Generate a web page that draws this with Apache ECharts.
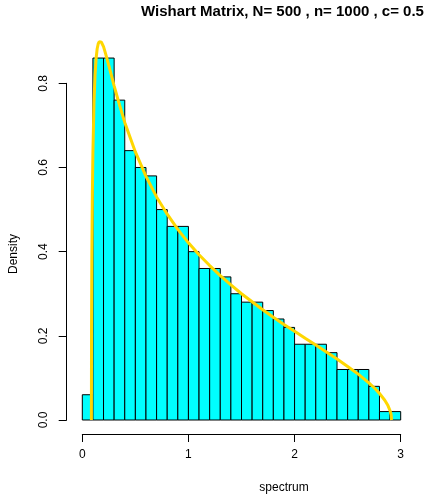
<!DOCTYPE html>
<html>
<head>
<meta charset="utf-8">
<script src="https://cdn.jsdelivr.net/npm/echarts@6/dist/echarts.min.js"></script>
<style>
html,body{margin:0;padding:0;background:#fff;}
#chart{width:430px;height:495px;}
</style>
</head>
<body>
<div id="chart"></div>
<script>
// Histogram breaks (bin edges)
var breaks = [0.0,0.1,0.2,0.3,0.4,0.5,0.6,0.7,0.8,0.9,1.0,1.1,1.2,1.3,1.4,1.5,1.6,1.7,1.8,1.9,2.0,2.1,2.2,2.3,2.4,2.5,2.6,2.7,2.8,2.9,3.0];
// Histogram densities per bin
var densities = [0.06,0.86,0.86,0.76,0.64,0.60,0.58,0.50,0.46,0.46,0.40,0.36,0.36,0.34,0.30,0.28,0.28,0.26,0.24,0.22,0.18,0.18,0.18,0.16,0.12,0.12,0.12,0.08,0.02,0.02];
// Density curve
var curveX = [0.0858,0.087,0.09,0.095,0.10,0.11,0.12,0.13,0.14,0.15,0.16,0.17,0.18,0.20,0.22,0.25,0.30,0.35,0.40,0.50,0.60,0.70,0.80,0.90,1.00,1.10,1.20,1.30,1.40,1.50,1.60,1.70,1.80,1.90,2.00,2.10,2.20,2.30,2.40,2.50,2.60,2.70,2.75,2.80,2.85,2.88,2.90,2.91,2.9142];
var curveY = [0.000,0.213,0.385,0.540,0.636,0.754,0.820,0.859,0.882,0.894,0.899,0.900,0.8975,0.887,0.870,0.842,0.794,0.749,0.707,0.637,0.579,0.530,0.489,0.453,0.421,0.3925,0.367,0.343,0.321,0.300,0.281,0.262,0.244,0.227,0.211,0.194,0.178,0.1614,0.145,0.1273,0.109,0.088,0.0766,0.0633,0.047,0.0342,0.0219,0.0119,0.000];
// Axis ticks
var xTicks = [0,1,2,3];
var yTicks = [0.0,0.2,0.4,0.6,0.8];

var titleText = 'Wishart Matrix, N= 500 , n= 1000 , c= 0.5';
var xLabel = 'spectrum';
var yLabel = 'Density';

var barData = densities.map(function(d,i){ return [breaks[i], breaks[i+1], d]; });
var lineData = curveX.map(function(x,i){ return [x, curveY[i]]; });

var FONT = '"Liberation Sans", Arial, Helvetica, sans-serif';
var chart = echarts.init(document.getElementById('chart'), null, {renderer:'canvas'});
chart.setOption({
  animation: false,
  backgroundColor: '#ffffff',
  grid: {left: 82.3, width: 318.4, top: 83.3, height: 336.7, containLabel: false},
  xAxis: {
    type: 'value', min: xTicks[0], max: xTicks[xTicks.length-1], interval: 1,
    offset: 14,
    axisLine: {show: true, onZero: false, lineStyle: {color: '#000', width: 1}},
    axisTick: {show: true, length: 8, inside: false, lineStyle: {color: '#000'}},
    axisLabel: {color: '#000', fontSize: 12, fontFamily: FONT, margin: 15,
      formatter: function(v){ return String(v); }},
    splitLine: {show: false}
  },
  yAxis: {
    type: 'value', min: yTicks[0], max: yTicks[yTicks.length-1], interval: 0.2,
    offset: 15.6,
    axisLine: {show: true, onZero: false, lineStyle: {color: '#000', width: 1}},
    axisTick: {show: true, length: 8, inside: false, lineStyle: {color: '#000'}},
    axisLabel: {color: '#000', fontSize: 12, fontFamily: FONT, margin: 17, rotate: 90,
      formatter: function(v){ return v.toFixed(1); }},
    splitLine: {show: false}
  },
  graphic: [
    {type: 'text', x: 282.5, y: 12, style: {text: titleText, x: 0, y: 0, textAlign: 'center', textVerticalAlign: 'middle',
      font: 'bold 15px ' + FONT, fill: '#000'}},
    {type: 'text', x: 284, y: 488, style: {text: xLabel, x: 0, y: 0, textAlign: 'center', textVerticalAlign: 'middle',
      font: '12px ' + FONT, fill: '#000'}},
    {type: 'text', x: 13.5, y: 254, rotation: Math.PI/2, style: {text: yLabel, x: 0, y: 0, textAlign: 'center', textVerticalAlign: 'middle',
      font: '12px ' + FONT, fill: '#000'}}
  ],
  series: [
    {
      type: 'custom',
      clip: false,
      data: barData,
      encode: {x: [0,1], y: 2},
      renderItem: function(params, api){
        var p0 = api.coord([api.value(0), 0]);
        var p1 = api.coord([api.value(1), api.value(2)]);
        return {
          type: 'rect',
          shape: {x: p0[0], y: p1[1], width: p1[0]-p0[0], height: p0[1]-p1[1]},
          style: {fill: '#00FFFF', stroke: '#000', lineWidth: 1}
        };
      },
      z: 2
    },
    {
      type: 'line',
      clip: false,
      data: lineData,
      showSymbol: false,
      symbol: 'none',
      smooth: false,
      lineStyle: {color: '#FFD700', width: 3},
      z: 3
    }
  ]
});
</script>
</body>
</html>
